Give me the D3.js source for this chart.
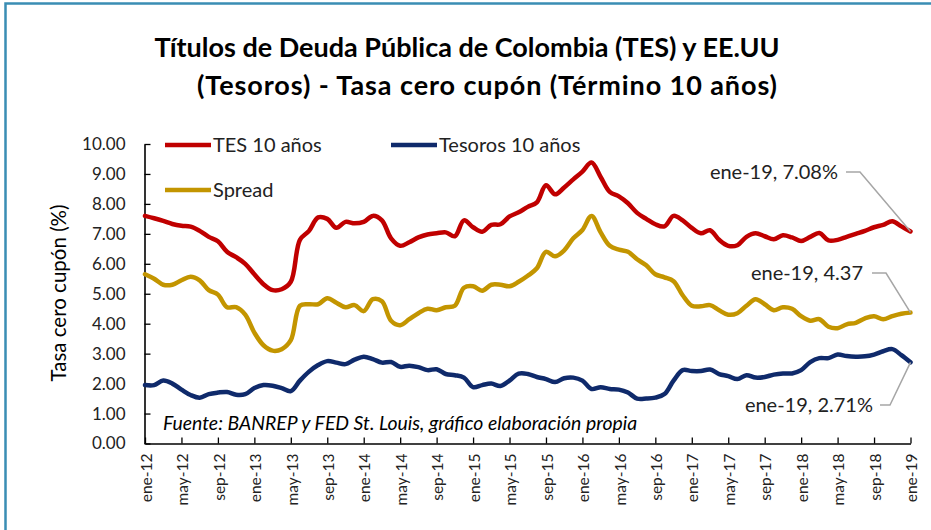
<!DOCTYPE html>
<html>
<head>
<meta charset="utf-8">
<script src="https://cdn.jsdelivr.net/npm/d3@7/dist/d3.min.js"></script>
<style>
body { margin: 0; background: #fff; }
svg { display: block; font-family: Lato, sans-serif; }
</style>
</head>
<body>
<script>
const wid = 931, hei = 530;     // width & height

// x-axis labels, every 4 months
const tickLabels = ['ene-12', 'may-12', 'sep-12', 'ene-13', 'may-13', 'sep-13', 'ene-14', 'may-14',
    'sep-14', 'ene-15', 'may-15', 'sep-15', 'ene-16', 'may-16', 'sep-16', 'ene-17', 'may-17',
    'sep-17', 'ene-18', 'may-18', 'sep-18', 'ene-19'];

// monthly values ene-12 .. ene-19
const tes = [
    7.60, 7.52, 7.43, 7.33, 7.27, 7.24, 7.10, 6.90, 6.75, 6.40,
    6.22, 6.00, 5.65, 5.32, 5.12, 5.15, 5.40, 6.80, 7.10, 7.55,
    7.50, 7.20, 7.40, 7.35, 7.40, 7.60, 7.45, 6.85, 6.60, 6.72,
    6.88, 6.98, 7.02, 7.05, 6.92, 7.45, 7.22, 7.07, 7.30, 7.32,
    7.58, 7.72, 7.90, 8.05, 8.62, 8.32, 8.55, 8.82, 9.08, 9.38,
    8.90, 8.40, 8.25, 8.02, 7.70, 7.50, 7.32, 7.25, 7.60, 7.45,
    7.20, 7.02, 7.12, 6.80, 6.60, 6.62, 6.90, 7.02, 6.92, 6.82,
    6.95, 6.88, 6.76, 6.90, 7.03, 6.78, 6.80, 6.90, 7.00, 7.10,
    7.22, 7.30, 7.42, 7.25, 7.08
];
const tesoros = [
    1.95, 1.95, 2.10, 2.00, 1.80, 1.62, 1.53, 1.65, 1.70, 1.72,
    1.63, 1.65, 1.85, 1.95, 1.93, 1.85, 1.75, 2.10, 2.40, 2.62,
    2.75, 2.70, 2.65, 2.80, 2.90, 2.82, 2.70, 2.72, 2.56, 2.60,
    2.55, 2.45, 2.48, 2.32, 2.28, 2.20, 1.88, 1.95, 2.00, 1.92,
    2.10, 2.33, 2.32, 2.22, 2.15, 2.05, 2.18, 2.20, 2.10, 1.82,
    1.88, 1.82, 1.80, 1.70, 1.50, 1.50, 1.53, 1.65, 2.10, 2.45,
    2.42, 2.42, 2.47, 2.32, 2.25, 2.15, 2.28, 2.20, 2.22, 2.30,
    2.34, 2.34, 2.45, 2.72, 2.85, 2.85, 2.97, 2.92, 2.90, 2.91,
    2.97, 3.08, 3.15, 2.95, 2.71
];
const spread = [
    5.65, 5.50, 5.30, 5.30, 5.45, 5.57, 5.45, 5.12, 4.97, 4.55,
    4.55, 4.30, 3.70, 3.28, 3.10, 3.15, 3.45, 4.60, 4.65, 4.65,
    4.85, 4.70, 4.55, 4.62, 4.42, 4.82, 4.75, 4.10, 3.95, 4.15,
    4.35, 4.50, 4.45, 4.55, 4.60, 5.20, 5.25, 5.10, 5.30, 5.30,
    5.25, 5.40, 5.60, 5.85, 6.40, 6.25, 6.45, 6.85, 7.13, 7.60,
    7.05, 6.60, 6.47, 6.40, 6.15, 5.95, 5.65, 5.55, 5.42, 4.95,
    4.60, 4.58, 4.62, 4.45, 4.30, 4.35, 4.60, 4.82, 4.65, 4.45,
    4.55, 4.50, 4.25, 4.10, 4.15, 3.90, 3.85, 3.98, 4.03, 4.18,
    4.25, 4.15, 4.25, 4.33, 4.37
];

const series = [
    {name: 'TES 10 años', values: tes, color: '#c00000', unit: '%'},
    {name: 'Tesoros 10 años', values: tesoros, color: '#0f2a6b', unit: '%'},
    {name: 'Spread', values: spread, color: '#c39500', unit: ''}
];

const x = d3.scaleLinear().domain([0, tes.length - 1]).range([145, 910.5]);
const y = d3.scaleLinear().domain([0, 10]).range([443.5, 144]);

let svg = d3.select('body')
    .append('svg')
    .attr('width', wid)
    .attr('height', hei);

svg.append('rect')
    .attr('x', 0).attr('y', 0).attr('width', wid).attr('height', hei)
    .attr('fill', '#fff');

// chart area border (cropped on right/bottom)
svg.append('rect')
    .attr('x', 5.5).attr('y', 3.5).attr('width', 1000).attr('height', 700)
    .attr('fill', 'none').attr('stroke', '#3a8db4').attr('stroke-width', 2.5);

// title
let title = svg.append('text')
    .attr('text-anchor', 'middle')
    .attr('font-weight', 'bold')
    .attr('font-size', 27)
    .attr('fill', '#000');
title.append('tspan').attr('x', 467).attr('y', 57).text('Títulos de Deuda Pública de Colombia (TES) y EE.UU');
title.append('tspan').attr('x', 487).attr('y', 95)
    .attr('textLength', 580).attr('lengthAdjust', 'spacing')
    .text('(Tesoros) - Tasa cero cupón (Término 10 años)');

// y axis
let yAxis = svg.append('g')
    .attr('transform', 'translate(144.5,0)')
    .call(d3.axisLeft(y).ticks(10).tickFormat(d3.format('.2f'))
        .tickSizeInner(-6).tickSizeOuter(0).tickPadding(19));
yAxis.select('.domain').attr('stroke', '#000').attr('stroke-width', 1.6);
yAxis.selectAll('.tick line').attr('stroke', '#000').attr('stroke-width', 1.3);
yAxis.selectAll('text').attr('font-size', 17).attr('font-family', 'Lato, sans-serif').attr('fill', '#222');

svg.append('text')
    .attr('transform', 'translate(66,293) rotate(-90)')
    .attr('text-anchor', 'middle')
    .attr('font-size', 20.5)
    .attr('fill', '#000')
    .text('Tasa cero cupón (%)');

// x axis
let xAxis = svg.append('g')
    .attr('transform', 'translate(0,443.5)')
    .call(d3.axisBottom(x).tickValues(d3.range(0, tes.length, 4))
        .tickFormat((d, i) => tickLabels[i])
        .tickSizeInner(-6).tickSizeOuter(0));
xAxis.select('.domain').attr('stroke', '#000').attr('stroke-width', 1.6);
xAxis.selectAll('.tick line').attr('stroke', '#000').attr('stroke-width', 1.3);
xAxis.selectAll('text')
    .attr('font-size', 15.5)
    .attr('font-family', 'Lato, sans-serif')
    .attr('fill', '#222')
    .attr('transform', 'rotate(-90)')
    .attr('text-anchor', 'end')
    .attr('x', -10)
    .attr('y', 0)
    .attr('dy', '0.4em');

// footnote
svg.append('text')
    .attr('x', 163).attr('y', 430)
    .attr('font-size', 19.4)
    .attr('font-style', 'italic')
    .attr('fill', '#000')
    .text('Fuente: BANREP y FED St. Louis, gráfico elaboración propia');

// lines
const line = d3.line()
    .x((d, i) => x(i))
    .y((d) => y(d))
    .curve(d3.curveCatmullRom.alpha(0.5));

svg.selectAll('path.serie')
    .data(series)
    .enter()
    .append('path')
    .attr('class', 'serie')
    .attr('d', (d) => line(d.values))
    .attr('fill', 'none')
    .attr('stroke', (d) => d.color)
    .attr('stroke-width', 4.5)
    .attr('stroke-linejoin', 'round')
    .attr('stroke-linecap', 'round');

// legend
const legendPos = [[165, 145], [391, 145], [165, 190]];
let legend = svg.selectAll('g.legend')
    .data(series)
    .enter()
    .append('g')
    .attr('class', 'legend')
    .attr('transform', (d, i) => `translate(${legendPos[i][0]},${legendPos[i][1]})`);
legend.append('line')
    .attr('x1', 0).attr('x2', 46).attr('y1', 0).attr('y2', 0)
    .attr('stroke', (d) => d.color).attr('stroke-width', 4.5);
legend.append('text')
    .attr('x', 48).attr('y', 0).attr('dy', '0.35em')
    .attr('font-size', 20).attr('fill', '#222')
    .text((d) => d.name);

// last value labels with leader lines (order: TES, Tesoros, Spread)
const labelPos = [[838, 172, 846, 860], [873, 405, 880, 890], [863, 273, 872, 886]];
const last = tes.length - 1;
let notes = svg.selectAll('g.note')
    .data(series)
    .enter()
    .append('g')
    .attr('class', 'note');
notes.append('polyline')
    .attr('points', (d, i) => {
        let p = labelPos[i];
        return `${p[2]},${p[1]} ${p[3]},${p[1]} ${x(last)},${y(d.values[last])}`;
    })
    .attr('fill', 'none').attr('stroke', '#a6a6a6').attr('stroke-width', 1.5);
notes.append('text')
    .attr('x', (d, i) => labelPos[i][0])
    .attr('y', (d, i) => labelPos[i][1])
    .attr('dy', '0.35em')
    .attr('text-anchor', 'end')
    .attr('font-size', 20).attr('fill', '#222')
    .text((d) => `${tickLabels[tickLabels.length - 1]}, ${d.values[last].toFixed(2)}${d.unit}`);
</script>
</body>
</html>
